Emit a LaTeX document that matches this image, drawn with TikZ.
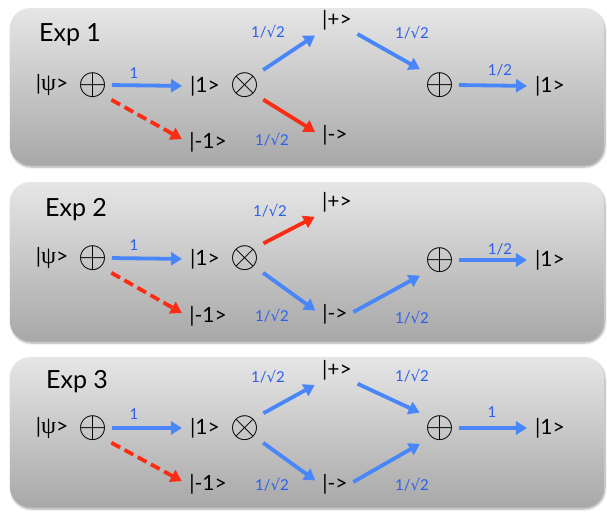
\documentclass[tikz,border=0pt]{standalone}
\usepackage{fontspec}
\setmainfont{Lato}
\newfontfamily\symfont{DejaVu Sans}
\newfontfamily\grkfont{Liberation Serif}
\usetikzlibrary{arrows.meta,shadows.blur}
\definecolor{arrowblue}{RGB}{72,134,250}
\definecolor{labelblue}{RGB}{45,95,235}
\definecolor{arrowred}{RGB}{250,45,20}
\definecolor{paneltop}{RGB}{230,230,230}
\definecolor{panelbottom}{RGB}{168,168,168}
\newcommand{\rtwo}{1/{\symfont √}2}
\newcommand{\kpsi}{|{\grkfont\fontsize{24}{24}\selectfont ψ}>}

\begin{document}
\begin{tikzpicture}[
    x=1pt, y=-1pt,
    panel/.style={rounded corners=20pt, top color=paneltop, bottom color=panelbottom, draw=none,
      blur shadow={shadow xshift=1pt, shadow yshift=-2pt, shadow blur steps=6, shadow opacity=35}},
    exp/.style={font=\fontsize{25}{25}\selectfont, inner sep=0pt},
    ket/.style={font=\fontsize{21}{21}\selectfont, inner sep=2pt},
    op/.style={font=\fontsize{20}{20}\selectfont, inner sep=0pt, scale=1.8},
    wt/.style={font=\fontsize{15}{15}\selectfont, text=labelblue, inner sep=1pt},
    arr/.style={-{Triangle[length=11pt,width=13pt]}, line width=3.8pt, shorten <=4pt, shorten >=6pt, draw=#1},
    arr/.default=arrowblue,
    lost/.style={arr=arrowred, dash pattern=on 10pt off 5pt}
  ]
    \useasboundingbox (0,0) rectangle (607,514);

    % Exp 1
    \draw[panel] (10,8) rectangle (604,165);
    \node[exp] (exp1) at (70,35) {Exp 1};
    \node[ket] (psi1) at (52,85) {\kpsi};
    \node[op] (split1) at (93,85) {$\oplus$};
    \node[ket] (one1) at (205,86) {|1>};
    \node[ket] (mone1) at (208,142) {|-1>};
    \node[op] (rot1) at (245,85) {$\otimes$};
    \node[ket] (plus1) at (337,20) {|+>};
    \node[ket] (minus1) at (335,135) {|->};
    \node[op] (join1) at (440,85) {$\oplus$};
    \node[ket] (out1) at (550,86) {|1>};

    \draw[arr] (split1.east) -- (one1.west);
    \draw[lost] (split1.south east) -- (mone1.west);
    \draw[arr] (rot1.north east) -- (plus1.south west);
    \draw[arr=arrowred] (rot1.-40) -- (minus1.west);
    \draw[arr] (plus1.south east) -- (join1.north west);
    \draw[arr] (join1.east) -- (out1.west);

    \node[wt] (w11) at (134,73) {1};
    \node[wt] (w12) at (268,32) {\rtwo};
    \node[wt] (w13) at (272,140) {\rtwo};
    \node[wt] (w14) at (412,33) {\rtwo};
    \node[wt] (w15) at (500,70) {1/2};

    % Exp 2
    \draw[panel] (10,182) rectangle (604,341);
    \node[exp] (exp2) at (76,210) {Exp 2};
    \node[ket] (psi2) at (52,258) {\kpsi};
    \node[op] (split2) at (93,258) {$\oplus$};
    \node[ket] (one2) at (205,259) {|1>};
    \node[ket] (mone2) at (208,316) {|-1>};
    \node[op] (rot2) at (245,258) {$\otimes$};
    \node[ket] (plus2) at (337,202) {|+>};
    \node[ket] (minus2) at (335,314) {|->};
    \node[op] (join2) at (440,260) {$\oplus$};
    \node[ket] (out2) at (550,260) {|1>};

    \draw[arr] (split2.east) -- (one2.west);
    \draw[lost] (split2.south east) -- (mone2.west);
    \draw[arr=arrowred] (rot2.north east) -- (plus2.south west);
    \draw[arr] (rot2.-40) -- (minus2.west);
    \draw[arr] (minus2.east) -- (join2.south west);
    \draw[arr] (join2.east) -- (out2.west);

    \node[wt] (w21) at (134,245) {1};
    \node[wt] (w22) at (270,211) {\rtwo};
    \node[wt] (w23) at (272,316) {\rtwo};
    \node[wt] (w24) at (412,318) {\rtwo};
    \node[wt] (w25) at (500,249) {1/2};

    % Exp 3
    \draw[panel] (10,357) rectangle (604,507);
    \node[exp] (exp3) at (77,382) {Exp 3};
    \node[ket] (psi3) at (52,428) {\kpsi};
    \node[op] (split3) at (93,428) {$\oplus$};
    \node[ket] (one3) at (205,428) {|1>};
    \node[ket] (mone3) at (208,484) {|-1>};
    \node[op] (rot3) at (245,428) {$\otimes$};
    \node[ket] (plus3) at (337,370) {|+>};
    \node[ket] (minus3) at (335,484) {|->};
    \node[op] (join3) at (440,428) {$\oplus$};
    \node[ket] (out3) at (550,428) {|1>};

    \draw[arr] (split3.east) -- (one3.west);
    \draw[lost] (split3.south east) -- (mone3.west);
    \draw[arr] (rot3.north east) -- (plus3.south west);
    \draw[arr] (rot3.-40) -- (minus3.west);
    \draw[arr] (plus3.south east) -- (join3.north west);
    \draw[arr] (minus3.east) -- (join3.south west);
    \draw[arr] (join3.east) -- (out3.west);

    \node[wt] (w31) at (134,414) {1};
    \node[wt] (w32) at (268,377) {\rtwo};
    \node[wt] (w33) at (272,485) {\rtwo};
    \node[wt] (w34) at (412,376) {\rtwo};
    \node[wt] (w35) at (412,485) {\rtwo};
    \node[wt] (w36) at (492,412) {1};
  \end{tikzpicture}
\end{document}
